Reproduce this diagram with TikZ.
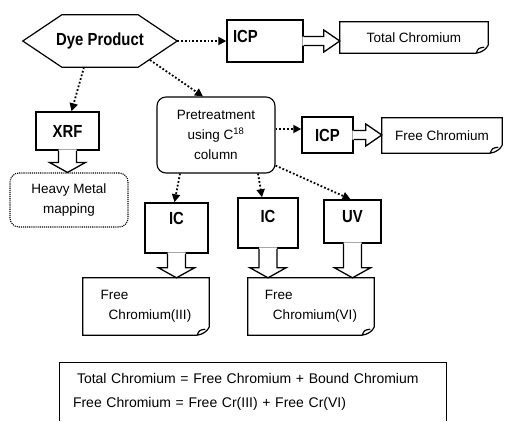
\documentclass[tikz,border=0pt]{standalone}
\usepackage{fontspec}
\setmainfont{Liberation Sans}
\newfontfamily\narrowfont[FakeStretch=0.85]{Liberation Sans}
\usetikzlibrary{arrows.meta,calc}

\newcommand{\blkdown}[2]{%
  \path (#1.south) coordinate (bs) (#1.south |- #2.north) coordinate (bt);
  \fill[white] ($(bs)+(-9,-1.5)$) -- ($(bt)+(-9,-10)$) -- ($(bt)+(-18,-10)$) -- (bt)
    -- ($(bt)+(18,-10)$) -- ($(bt)+(9,-10)$) -- ($(bs)+(9,-1.5)$) -- cycle;
  \draw[blk] ($(bs)+(-9,0)$) -- ($(bt)+(-9,-10)$) -- ($(bt)+(-18,-10)$) -- (bt)
    -- ($(bt)+(18,-10)$) -- ($(bt)+(9,-10)$) -- ($(bs)+(9,0)$);}
\newcommand{\blkright}[2]{%
  \path (#1.east) coordinate (bs) (#1.east -| #2.west) coordinate (bt);
  \fill[white] ($(bs)+(-1.5,-4.5)$) -- ($(bt)+(-16,-4.5)$) -- ($(bt)+(-16,-11)$) -- (bt)
    -- ($(bt)+(-16,11)$) -- ($(bt)+(-16,4.5)$) -- ($(bs)+(-1.5,4.5)$) -- cycle;
  \draw[blk] ($(bs)+(0,-4.5)$) -- ($(bt)+(-16,-4.5)$) -- ($(bt)+(-16,-11)$) -- (bt)
    -- ($(bt)+(-16,11)$) -- ($(bt)+(-16,4.5)$) -- ($(bs)+(0,4.5)$);}

\begin{document}
\begin{tikzpicture}[
    x=1pt, y=-1pt,
    txt/.style={font=\fontsize{13.5}{20}\selectfont},
    bold/.style={font=\narrowfont\bfseries\fontsize{17.5}{20}\selectfont},
    tool/.style={draw, line width=1.5pt, bold},
    soft/.style={draw, line width=1.1pt, rounded corners=9pt, align=center, txt},
    doc/.style={align=left, txt, minimum width=126pt, minimum height=57pt},
    dots/.style={dotted, line width=1.8pt, -{Triangle[length=8pt, width=8pt]}},
    blk/.style={line width=1.3pt, line join=miter},
    outline/.style={line width=1.2pt}
  ]
    \useasboundingbox (0,0) rectangle (506,421);

    \node[bold, minimum width=154pt, minimum height=52pt] (dye) at (100,41) {Dye Product};
    \draw[outline] (dye.west) -- ([xshift=39pt]dye.north west) -- ([xshift=-39pt]dye.north east)
      -- (dye.east) -- ([xshift=-39pt]dye.south east) -- ([xshift=39pt]dye.south west) -- cycle;
    \node[tool, minimum width=76pt, minimum height=42pt, text width=64pt, inner xsep=6pt, align=left, text depth=9pt] (icpa) at (265,41) {ICP};
    \node[txt, minimum width=148pt, minimum height=31pt] (tot) at (414,37.5) {Total Chromium};
    \node[tool, minimum width=63pt, minimum height=38pt] (xrf) at (67.5,131) {XRF};
    \node[soft, densely dotted, minimum width=118pt, minimum height=54pt] (hm) at (69,200) {Heavy Metal\\mapping};
    \node[soft, minimum width=118pt, minimum height=76pt] (pre) at (216,135) {Pretreatment\\using C\textsuperscript{18}\\column};
    \node[tool, minimum width=51pt, minimum height=36pt] (icpb) at (327.5,135) {ICP};
    \node[txt, minimum width=120pt, minimum height=35pt] (free) at (442,135.5) {Free Chromium};
    \node[tool, minimum width=63pt, minimum height=50pt, text depth=19pt] (ica) at (176.5,228) {IC};
    \node[tool, minimum width=60pt, minimum height=50pt, text depth=13pt] (icb) at (268,223) {IC};
    \node[tool, minimum width=57pt, minimum height=43pt, text depth=10pt] (uv) at (352.5,221.5) {UV};
    \node[doc] (cr3) at (146,306.5) {Free\\\hspace*{8pt}Chromium(III)};
    \node[doc] (cr6) at (311,306.5) {Free\\\hspace*{8pt}Chromium(VI)};
    \node[font=\fontsize{14}{24}\selectfont, align=left, text width=360pt, inner xsep=13pt, minimum width=386pt, minimum height=58pt] (eq) at (253,392)
      {\hspace*{4pt}Total Chromium = Free Chromium + Bound Chromium\\Free Chromium = Free Cr(III) + Free Cr(VI)};
    \draw[outline] (eq.south west) -- (eq.north west) -- (eq.north east) -- (eq.south east);

    \foreach \n in {tot,free,cr3,cr6}
      \draw[outline] ([yshift=8pt]\n.south east) -- (\n.north east) -- (\n.north west) -- (\n.south west)
        -- ([xshift=-12pt]\n.south east) .. controls ([xshift=-6pt,yshift=1pt]\n.south east) and ([xshift=-2pt,yshift=4pt]\n.south east) .. ([yshift=8pt]\n.south east)
        ([xshift=-12pt]\n.south east) .. controls ([xshift=-10pt,yshift=5pt]\n.south east) .. ([xshift=-4pt,yshift=6pt]\n.south east);

    \draw[dots] (dye.east) -- (icpa.west);
    \draw[dots] ([xshift=-16pt]dye.south) -- ([xshift=4pt]xrf.north);
    \draw[dots] ([xshift=50pt,yshift=-19pt]dye.center) -- ([xshift=-13pt]pre.north);
    \draw[dots] ([yshift=6pt]pre.east) -- ([yshift=6pt]icpb.west);
    \draw[dots] ([xshift=-36pt]pre.south) -- ([xshift=-2pt]ica.north);
    \draw[dots] ([xshift=42pt]pre.south) -- ([xshift=-6pt]icb.north);
    \draw[dots] ([yshift=8pt]pre.south east) -- ([xshift=-2pt]uv.north);

    \blkright{icpa}{tot}
    \blkright{icpb}{free}
    \blkdown{xrf}{hm}
    \blkdown{ica}{cr3}
    \blkdown{icb}{cr6}
    \blkdown{uv}{cr6}
  \end{tikzpicture}
\end{document}
